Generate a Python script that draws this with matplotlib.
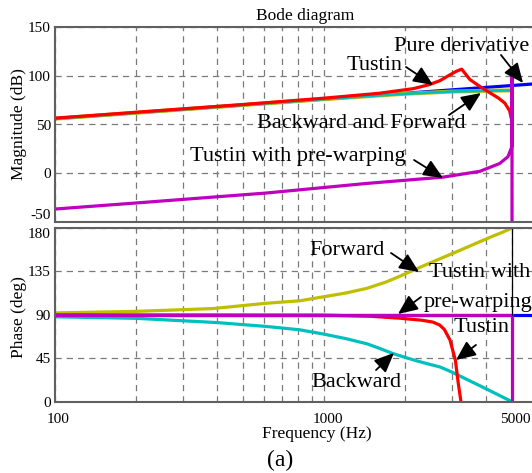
import numpy as np
import matplotlib
matplotlib.use("Agg")
import matplotlib.pyplot as plt
from matplotlib.transforms import ScaledTranslation

plt.rcParams['font.family'] = ['Liberation Serif', 'DejaVu Serif']
plt.rcParams['axes.unicode_minus'] = False

# colours (old matlab colour order)
C_BLUE = '#0000ff'
C_RED = '#ff0000'
C_CYAN = '#00bfbf'
C_YELLOW = '#bfbf00'
C_PURPLE = '#bf00bf'

# magnitude curves (dB)
freq_pd = [100, 1000, 5000, 6000]
mag_pd = [56, 76, 90, 91.6]

freq_bf = [100, 500, 1000, 1500, 2000, 3000, 4000, 5000]
mag_bf = [56, 70, 76, 79.3, 81.5, 83.8, 84.6, 85.0]

freq_tu = [100, 500, 1000, 1600, 2150, 2470, 2700, 2920, 3100, 3250, 3490, 3800, 4000, 4460, 4700, 4900, 4980, 5000]
mag_tu = [56.5, 70.5, 77, 82, 86.8, 91, 95, 100.5, 104.5, 106.8, 96, 89, 85, 77, 72, 64, 55, 40]

freq_pw = [100, 200, 609, 1433, 2770, 3800, 4500, 4830, 4990, 5000, 5000, 5000]
mag_pw = [-36.7, -30.5, -20.3, -10.5, -4, 2, 10, 17, 27, 40, 108, -60]

# phase curves (deg)
freq_fw = [100, 200, 386, 609, 813, 1000, 1200, 1445, 1700, 1915, 2200, 2540, 2800,
           3000, 3400, 3700, 4240, 4600, 5000]
ph_fw = [92, 93.6, 96.5, 102, 104.6, 108.8, 112.5, 117.5, 124, 130, 137.5, 145, 150,
         153.5, 160, 164.5, 171.5, 175.5, 180]

freq_bw = [100, 200, 400, 609, 813, 1000, 1200, 1445, 1600, 1800, 2000, 2200, 2450,
           2700, 3000, 3400, 3800, 4200, 4600, 5000]
ph_bw = [88, 86.4, 82, 78, 74.5, 70, 65.5, 60, 55.5, 50, 46, 42.5, 39,
         36, 30.5, 23, 16.5, 10.5, 5, 0]

freq_tup = [100, 1000, 1500, 1915, 2300, 2540, 2690, 2800, 2940, 3080, 3155, 3230, 3260]
ph_tup = [90, 89.7, 88.5, 86.5, 84.5, 82.5, 79.5, 75, 64, 43, 19.5, 0, -10]

freq_pwp = [100, 5000, 5000]
ph_pwp = [90, 90, -10]

freq_pdp = [100, 6000]
ph_pdp = [90, 90]

freq_nyq = [5000, 5000]
ph_nyq = [180, 90]

W, H = 532, 473
fig = plt.figure(figsize=(W / 100, H / 100), dpi=100)

left = 55 / W
width = 478.3 / W
ax1 = fig.add_axes([left, (H - 222) / H, width, 195 / H])
ax2 = fig.add_axes([left, (H - 401.7) / H, width, 173.7 / H])

lw = 2.3
ax1.plot(freq_pd, mag_pd, color=C_BLUE, lw=lw)
ax1.plot(freq_bf, mag_bf, color=C_YELLOW, lw=lw + 0.6)
ax1.plot(freq_bf, mag_bf, color=C_CYAN, lw=lw - 0.4)
ax1.plot(freq_tu, mag_tu, color=C_RED, lw=lw)
ax1.plot(freq_pw, mag_pw, color=C_PURPLE, lw=lw)

ax2.plot(freq_pdp, ph_pdp, color=C_BLUE, lw=lw)
ax2.plot(freq_bw, ph_bw, color=C_CYAN, lw=lw)
ax2.plot(freq_fw, ph_fw, color=C_YELLOW, lw=lw)
ax2.plot(freq_tup, ph_tup, color=C_RED, lw=lw)
ax2.plot(freq_pwp, ph_pwp, color=C_PURPLE, lw=lw)
ax2.plot(freq_nyq, ph_nyq, color='k', lw=0.9)

xt = [100, 200, 300, 400, 500, 600, 700, 800, 900,
      1000, 2000, 3000, 4000, 5000]
xl = [str(t) if t in (100, 1000, 5000) else '' for t in xt]

for ax in (ax1, ax2):
    ax.set_xscale('log')
    ax.set_xlim(100, 6000)
    ax.set_xticks(xt)
    ax.xaxis.set_minor_locator(matplotlib.ticker.NullLocator())
    ax.grid(True, linestyle=(0, (5, 4)), color='#7a7a7a', lw=0.9)
    ax.tick_params(direction='in', length=0, labelsize=11, pad=3)
    for s in ax.spines.values():
        s.set_color('#606060')
        s.set_linewidth(1.5)

ax1.set_xticklabels([''] * len(xt))
ax2.set_xticklabels(xl)
ax2.tick_params(axis='x', pad=8)
shift = ScaledTranslation(3.5 / 100, 0, fig.dpi_scale_trans)
for t in ax2.get_xticklabels():
    t.set_transform(t.get_transform() + shift)

ax1.set_ylim(-50, 150)
ax1.set_yticks([-50, 0, 50, 100, 150])
ax2.set_ylim(0, 180)
ax2.set_yticks([0, 45, 90, 135, 180])

# end labels sit inside the axes span, like matlab does
ax1.get_yticklabels()[0].set_verticalalignment('bottom')
ax2.get_yticklabels()[-1].set_verticalalignment('top')

fig.text(305 / W, 1 - 16 / H, 'Bode diagram', ha='center', va='center', fontsize=12.5)
fig.text(19 / W, 1 - 124 / H, 'Magnitude (dB)', rotation=90, ha='center', va='center', fontsize=12.5)
fig.text(19 / W, 1 - 317 / H, 'Phase (deg)', rotation=90, ha='center', va='center', fontsize=12.5)
fig.text(317 / W, 1 - 434 / H, 'Frequency (Hz)', ha='center', va='center', fontsize=12.5)
fig.text(280 / W, 1 - 460 / H, '(a)', ha='center', va='center', fontsize=17)

arrow = dict(arrowstyle='-|>,head_length=0.5,head_width=0.22', color='k', lw=1.3,
             mutation_scale=24, shrinkA=0, shrinkB=0)
fs = 16

def label(ax, txt, pos, tail=None, head=None):
    ax.text(pos[0], pos[1], txt, fontsize=fs, ha='left', va='center', clip_on=False)
    if tail is not None:
        ax.annotate('', xy=head, xytext=tail, arrowprops=arrow, annotation_clip=False)

# magnitude labels
label(ax1, 'Pure derivative', (1820, 130.5), (4550, 121.3), (5495, 92.6))
label(ax1, 'Tustin', (1218, 111), (2018, 109), (2543, 90.5))
label(ax1, 'Backward and Forward', (563, 51.5), (2915, 59.7), (3834, 82.3))
label(ax1, 'Tustin with pre-warping', (317.6, 16.7), (2161, 13.6), (2770, -4.9))

# phase labels
label(ax2, 'Forward', (879, 157.2), (1775, 154.1), (2256, 134.4))
label(ax2, 'Tustin with', (2457, 133.4))
label(ax2, 'pre-warping', (2353, 103.3), (2294, 108.5), (1884, 90.9))
label(ax2, 'Tustin', (3043, 76.4), (3673, 58.8), (3095, 43.2))
label(ax2, 'Backward', (894, 20.4), (1561, 32.8), (1820, 50.5))

fig.savefig('out.png', dpi=100)
